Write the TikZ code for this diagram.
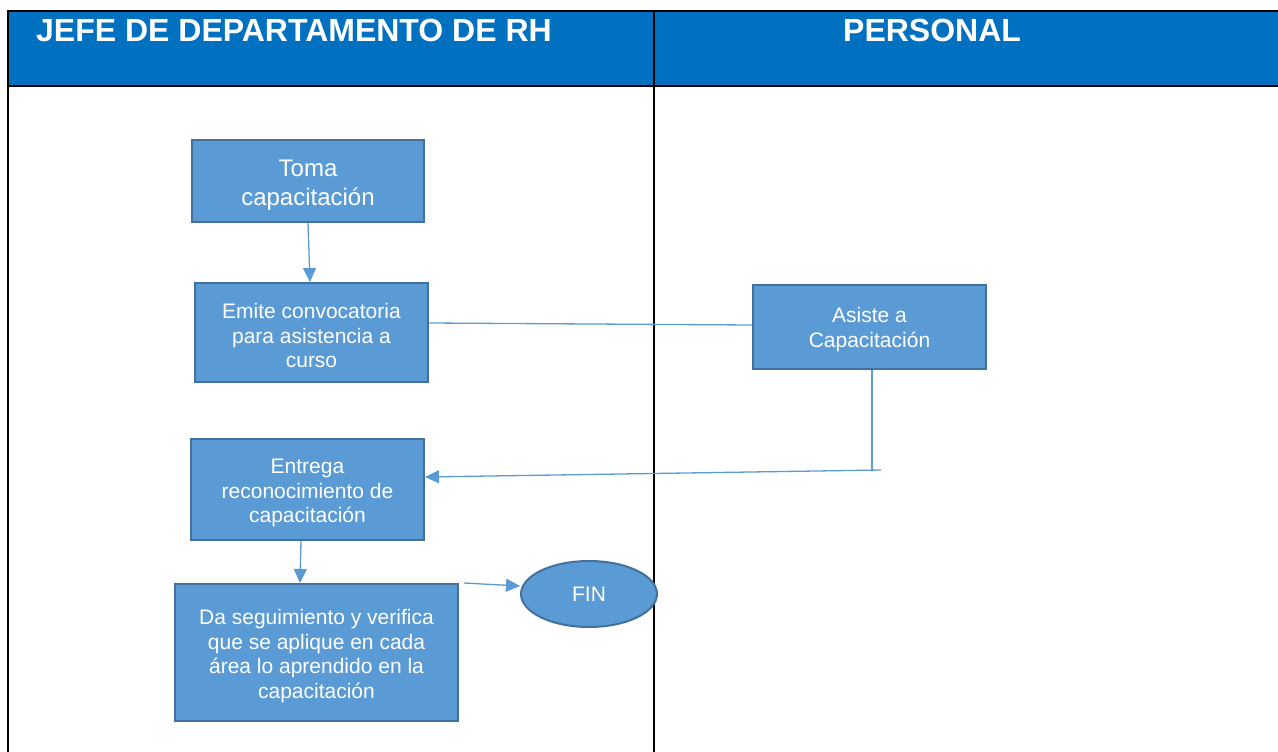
\documentclass[tikz,border=0pt]{standalone}
\usepackage{fontspec}
\setmainfont{Liberation Sans}
\usetikzlibrary{arrows.meta,shapes.geometric,calc}
\definecolor{hdrblue}{HTML}{0070C0}
\definecolor{boxfill}{HTML}{5B9BD5}
\definecolor{boxline}{HTML}{41719C}
\definecolor{conn}{HTML}{5B9BD5}
\tikzset{
  procbox/.style={draw=boxline, line width=2pt, fill=boxfill, text=white, align=center,
    inner sep=0pt, font=\fontsize{21}{24.5}\selectfont},
  endoval/.style={ellipse, draw=boxline, line width=2pt, fill=boxfill, text=white,
    inner sep=0pt, font=\fontsize{21}{24.5}\selectfont},
  link/.style={draw=conn, line width=1.3pt},
  linkarrow/.style={link, -{Triangle[length=14pt,width=13pt]}},
  hdrtext/.style={text=white, inner sep=0pt, anchor=base west, font=\fontsize{32}{38}\selectfont\bfseries},
  tableline/.style={draw=black, line width=2pt}
}
\newcommand{\toplift}[1]{\rule{0pt}{#1}}
\begin{document}
\begin{tikzpicture}[x=1pt,y=-1pt]
\useasboundingbox (0,0) rectangle (1278,752);
% header
\fill[hdrblue] (8,11) rectangle (1278,86);
\node[hdrtext] (h1) at (36,42) {JEFE DE DEPARTAMENTO DE RH};
\node[hdrtext] (h2) at (843,42) {PERSONAL};
% table lines
\draw[tableline] (7,11) -- (1278,11);
\draw[tableline] (8,11) -- (8,752);
\draw[tableline] (8,86) -- (1278,86);
\draw[tableline] (654,11) -- (654,752);
% nodes
\node[procbox, minimum width=232pt, minimum height=82pt, font=\fontsize{24}{29}\selectfont] (toma) at (308,181) {\toplift{25pt}Toma\\capacitación};
\node[procbox, minimum width=233pt, minimum height=99pt] (emite) at (311.5,332.5) {\toplift{21.5pt}Emite convocatoria\\para asistencia a\\curso};
\node[procbox, minimum width=233pt, minimum height=84pt] (asiste) at (869.5,327) {\toplift{20.5pt}Asiste a\\Capacitación};
\node[procbox, minimum width=233pt, minimum height=101pt] (entrega) at (307.5,489.5) {\toplift{22pt}Entrega\\reconocimiento de\\capacitación};
\node[procbox, minimum width=283pt, minimum height=137pt] (da) at (316.5,652.5) {\toplift{22pt}Da seguimiento y verifica\\que se aplique en cada\\área lo aprendido en la\\capacitación};
\node[endoval, minimum width=136pt, minimum height=66pt] (fin) at (589,594) {FIN};
% connectors
\coordinate (bend) at (872,471);
\coordinate (tail) at (881,470);
\draw[linkarrow] (toma.south) -- ([xshift=-1.5pt]emite.north);
\draw[link] ([yshift=9.5pt]emite.east) -- ([yshift=2pt]asiste.west);
\draw[link] ([xshift=2.5pt]asiste.south) -- (bend);
\draw[linkarrow] (tail) -- ([yshift=12.5pt]entrega.east);
\draw[linkarrow] ([xshift=-6.5pt]entrega.south) -- ([xshift=-16.5pt]da.north);
\draw[linkarrow] ([xshift=5pt]da.north east) -- ([yshift=8pt]fin.west);
\end{tikzpicture}
\end{document}
